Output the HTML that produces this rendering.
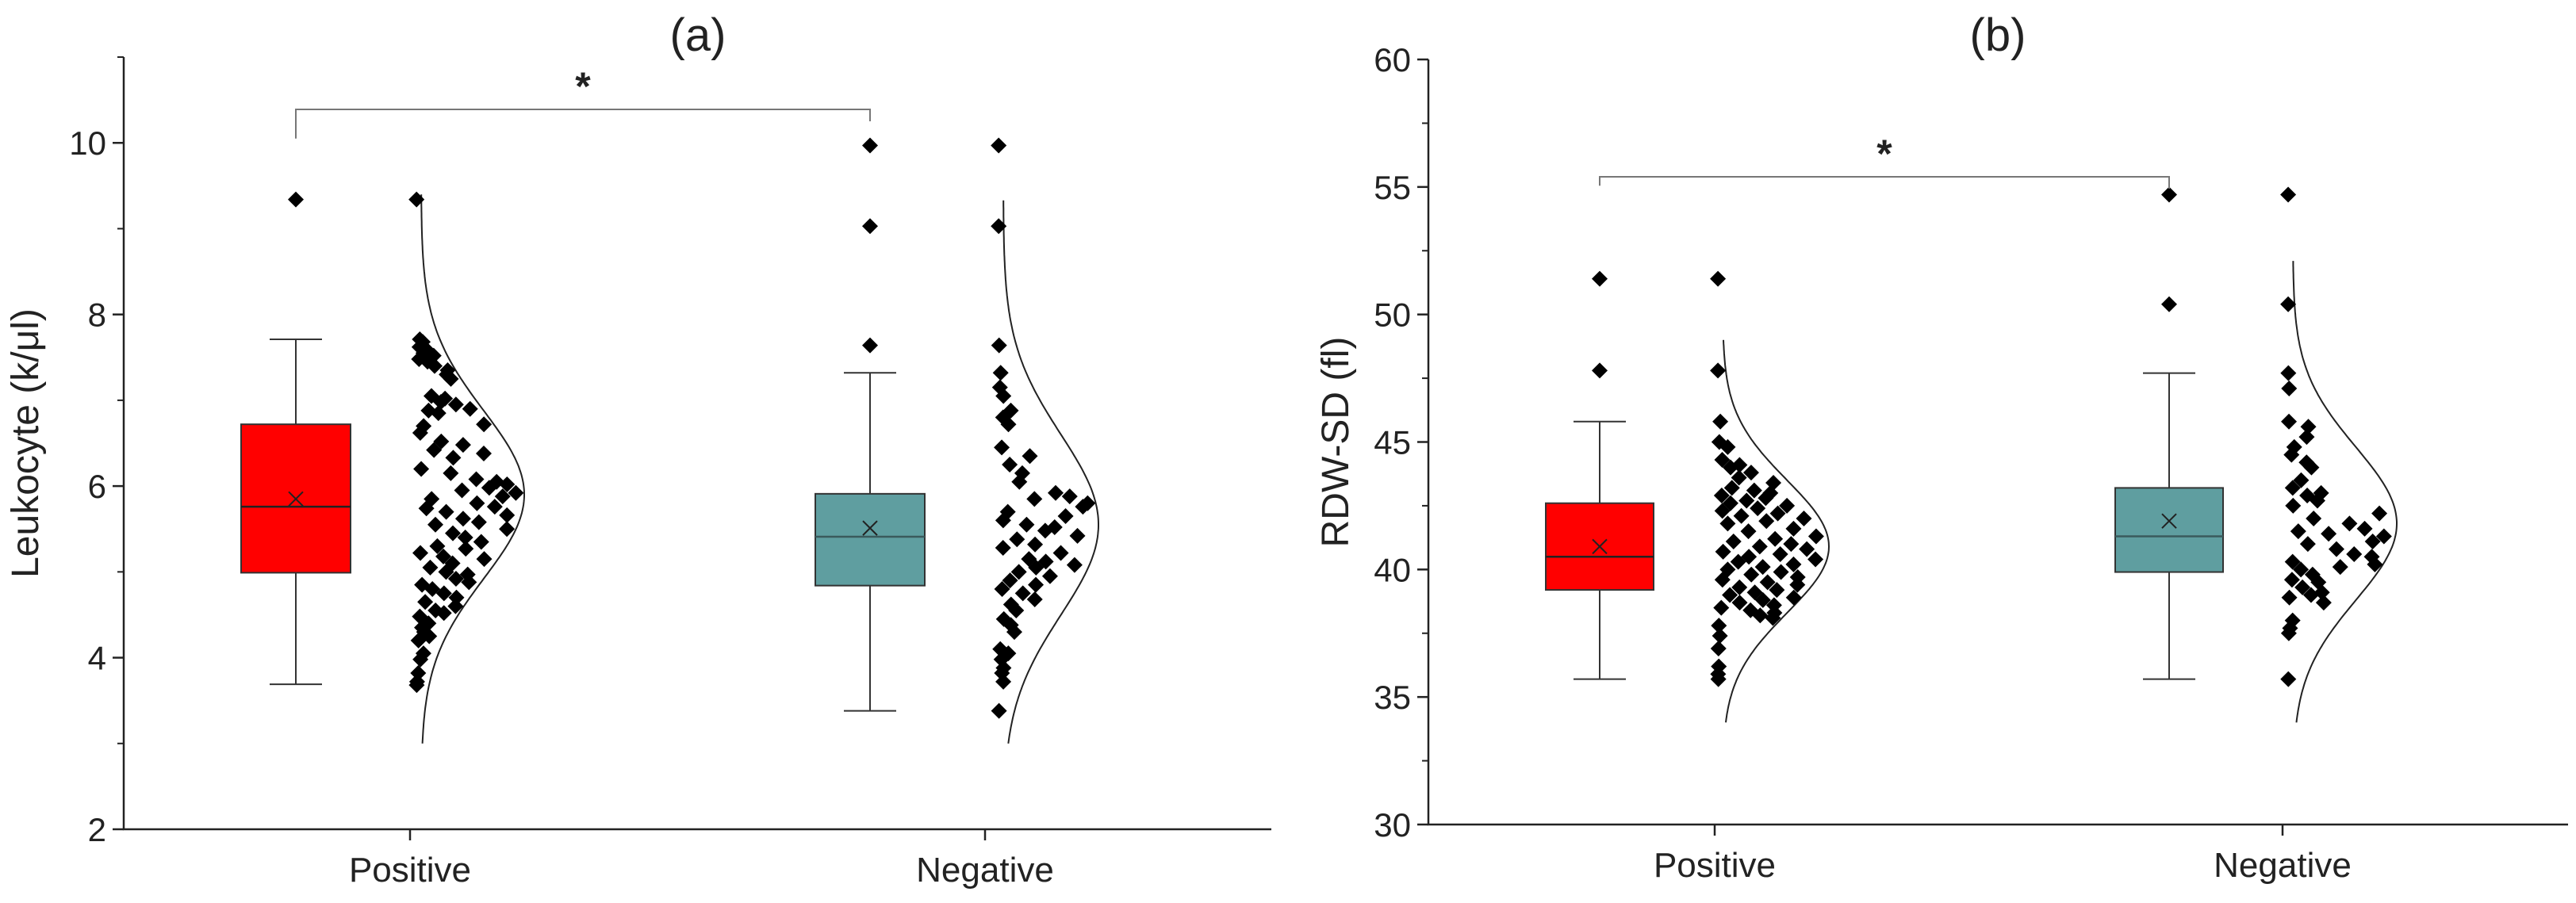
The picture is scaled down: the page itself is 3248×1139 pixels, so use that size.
<!DOCTYPE html>
<html><head><meta charset="utf-8"><style>
html,body{margin:0;padding:0;background:#fff;}
svg{display:block;font-family:"Liberation Sans",Arial,sans-serif;}
</style></head><body>
<svg id="chart" width="3248" height="1139" viewBox="0 0 3248 1139"></svg>
<script>
// ---------- data ----------
const categories = ["Positive", "Negative"];
// panel a: Leukocyte
const aTicks = [2, 4, 6, 8, 10];
const aQ1 = [4.99, 4.84];
const aQ3 = [6.72, 5.91];
const aMedian = [5.76, 5.41];
const aMean = [5.85, 5.51];
const aWhiskerLow = [3.69, 3.38];
const aWhiskerHigh = [7.71, 7.32];
const aOutliers = [[9.34], [9.97, 9.03, 7.64]];
const aCurveMean = [5.9, 5.55];
const aCurveSd = [0.98, 1.05];
const aCurveRange = [[3.0, 9.4], [3.0, 9.33]];
const aPosValues = [9.34,7.71,7.68,7.62,7.58,7.55,7.52,7.48,7.45,7.40,7.35,7.30,7.25,7.05,7.02,6.98,6.95,6.90,6.88,6.85,6.72,6.70,6.62,6.52,6.48,6.42,6.38,6.33,6.20,6.15,6.08,6.05,6.02,5.98,5.95,5.92,5.88,5.85,5.80,5.76,5.74,5.70,5.66,5.62,5.58,5.55,5.50,5.45,5.40,5.35,5.30,5.27,5.22,5.18,5.15,5.10,5.05,5.00,4.97,4.92,4.88,4.85,4.80,4.75,4.70,4.65,4.60,4.55,4.52,4.48,4.40,4.35,4.30,4.25,4.20,4.05,3.98,3.82,3.72,3.68];
const aPosFrac = [0.05,0.2,0.35,0.15,0.5,0.3,0.7,0.1,0.4,0.6,0.95,0.85,0.9,0.3,0.55,0.45,0.7,0.9,0.2,0.35,0.95,0.1,0.05,0.3,0.55,0.2,0.75,0.4,0.05,0.35,0.6,0.8,0.9,0.72,0.45,0.98,0.85,0.15,0.6,0.78,0.1,0.3,0.92,0.48,0.65,0.2,0.97,0.4,0.55,0.75,0.25,0.6,0.05,0.35,0.9,0.5,0.2,0.45,0.8,0.65,0.9,0.1,0.3,0.55,0.85,0.2,0.95,0.5,0.75,0.1,0.4,0.2,0.3,0.55,0.1,0.45,0.3,0.2,0.1,0.05];
const aNegValues = [9.97,9.03,7.64,7.32,7.15,7.05,6.88,6.80,6.72,6.45,6.35,6.25,6.15,6.05,5.92,5.88,5.85,5.80,5.76,5.70,5.65,5.60,5.55,5.52,5.48,5.42,5.38,5.32,5.28,5.22,5.15,5.12,5.08,5.05,5.00,4.95,4.90,4.85,4.80,4.75,4.68,4.62,4.55,4.45,4.38,4.30,4.10,4.05,3.98,3.88,3.82,3.72,3.38];
const aNegFrac = [0.05,0.05,0.05,0.1,0.05,0.15,0.3,0.1,0.2,0.05,0.45,0.15,0.3,0.25,0.65,0.8,0.4,0.98,0.92,0.1,0.72,0.05,0.3,0.6,0.5,0.85,0.2,0.4,0.05,0.7,0.35,0.55,0.9,0.45,0.25,0.65,0.15,0.5,0.05,0.35,0.55,0.2,0.3,0.1,0.25,0.35,0.05,0.3,0.1,0.2,0.15,0.25,0.05];
// panel b: RDW-SD
const bTicks = [30, 35, 40, 45, 50, 55, 60];
const bQ1 = [39.2, 39.9];
const bQ3 = [42.6, 43.2];
const bMedian = [40.5, 41.3];
const bMean = [40.9, 41.9];
const bWhiskerLow = [35.7, 35.7];
const bWhiskerHigh = [45.8, 47.7];
const bOutliers = [[51.4, 47.8], [54.7, 50.4]];
const bCurveMean = [40.9, 41.8];
const bCurveSd = [2.6, 3.0];
const bCurveRange = [[34.0, 49.0], [34.0, 52.1]];
const bPosValues = [51.4,47.8,45.8,45.0,44.8,44.3,44.1,44.0,43.8,43.6,43.4,43.2,43.1,43.0,42.9,42.8,42.7,42.6,42.5,42.4,42.3,42.2,42.1,42.0,41.9,41.8,41.6,41.5,41.3,41.2,41.1,41.0,40.9,40.8,40.7,40.6,40.5,40.4,40.3,40.2,40.1,40.0,39.9,39.8,39.7,39.6,39.5,39.4,39.3,39.2,39.1,39.0,38.9,38.8,38.7,38.6,38.5,38.4,38.3,38.2,38.1,37.8,37.4,36.9,36.2,35.9,35.7];
const bPosFrac = [0.02,0.02,0.15,0.05,0.3,0.1,0.45,0.25,0.6,0.35,0.85,0.2,0.5,0.7,0.05,0.6,0.35,0.15,0.8,0.45,0.05,0.65,0.25,0.9,0.5,0.1,0.75,0.3,0.95,0.55,0.15,0.7,0.4,0.85,0.05,0.6,0.3,0.95,0.2,0.75,0.45,0.1,0.65,0.35,0.85,0.05,0.55,0.9,0.25,0.7,0.45,0.15,0.98,0.6,0.3,0.8,0.05,0.5,0.9,0.7,0.95,0.02,0.05,0.02,0.05,0.02,0.04];
const bNegValues = [54.7,50.4,47.7,47.1,45.8,45.6,45.2,44.8,44.5,44.2,44.0,43.5,43.2,43.0,42.9,42.7,42.5,42.2,42.0,41.8,41.6,41.5,41.4,41.3,41.1,41.0,40.8,40.6,40.5,40.3,40.2,40.1,40.0,39.8,39.6,39.5,39.3,39.1,39.0,38.9,38.7,38.0,37.7,37.5,35.7];
const bNegFrac = [0.02,0.02,0.02,0.05,0.02,0.45,0.35,0.1,0.05,0.25,0.3,0.15,0.05,0.35,0.2,0.3,0.05,0.9,0.25,0.6,0.75,0.1,0.4,0.95,0.85,0.2,0.5,0.7,0.9,0.05,0.98,0.6,0.15,0.3,0.05,0.4,0.2,0.5,0.35,0.02,0.6,0.1,0.05,0.02,0.02];

// ---------- rendering ----------
const NS = "http://www.w3.org/2000/svg";
const svg = document.getElementById("chart");
function el(tag, attrs, parent) {
  const e = document.createElementNS(NS, tag);
  for (const k in attrs) e.setAttribute(k, attrs[k]);
  (parent || svg).appendChild(e);
  return e;
}

function drawPanel(p) {
  const g = el("g", {});
  
  
  const Y = v => p.y0 - (v - p.vmin) / (p.vmax - p.vmin) * (p.y0 - p.yTop);
  const ax = el("path", {d:`M${p.x0},${p.yTop} V${p.y0} H${p.xEnd}`, fill:"none", stroke:"#222", "stroke-width":2.5}, g);
  
  
  for (let i = 0; i < p.ticks.length; i++) {
    const v = p.ticks[i];
    el("line", {x1:p.x0-14, x2:p.x0, y1:Y(v), y2:Y(v), stroke:"#222", "stroke-width":2.5}, g);
    const t = el("text", {x:p.x0-22, y:Y(v)+15, "text-anchor":"end", "font-size":42, fill:"#222"}, g);
    t.textContent = v;
    
    
    const half = (p.ticks[1]-p.ticks[0]) / 2;
    if (v + half < p.vmax + 1e-9) el("line", {x1:p.x0-8, x2:p.x0, y1:Y(v+half), y2:Y(v+half), stroke:"#222", "stroke-width":2}, g);
  }
  const yt = el("text", {x:0, y:0, "text-anchor":"middle", "font-size":48, fill:"#222", transform:`translate(${p.titleX},${(p.yTop+p.y0)/2}) rotate(-90)`}, g);
  yt.textContent = p.ytitle;
  
  
  const pt = el("text", {x:p.labelX, y:64, "text-anchor":"middle", "font-size":58, fill:"#222"}, g);
  pt.textContent = p.label;
  
  
  for (let c = 0; c < 2; c++) {
    const cx = p.catX[c];
    el("line", {x1:cx, x2:cx, y1:p.y0, y2:p.y0+14, stroke:"#222", "stroke-width":2.5}, g);
    const ct = el("text", {x:cx, y:p.y0+66, "text-anchor":"middle", "font-size":44, fill:"#222"}, g);
    ct.textContent = categories[c];
    
    
    const bx = p.boxX[c], bw = p.boxW;
    el("line", {x1:bx, x2:bx, y1:Y(p.wh[c]), y2:Y(p.q3[c]), stroke:"#333", "stroke-width":2}, g);
    el("line", {x1:bx, x2:bx, y1:Y(p.q1[c]), y2:Y(p.wl[c]), stroke:"#333", "stroke-width":2}, g);
    el("line", {x1:bx-33, x2:bx+33, y1:Y(p.wh[c]), y2:Y(p.wh[c]), stroke:"#333", "stroke-width":2}, g);
    el("line", {x1:bx-33, x2:bx+33, y1:Y(p.wl[c]), y2:Y(p.wl[c]), stroke:"#333", "stroke-width":2}, g);
    const box = el("rect", {x:bx-bw/2, y:Y(p.q3[c]), width:bw, height:Y(p.q1[c])-Y(p.q3[c]), fill:p.colors[c], stroke:"#333", "stroke-width":2}, g);
    
    
    el("line", {x1:bx-bw/2, x2:bx+bw/2, y1:Y(p.med[c]), y2:Y(p.med[c]), stroke:c===0?"#222":"#3a5a5c", "stroke-width":2.5}, g);
    const my = Y(p.mean[c]);
    el("path", {d:`M${bx-9},${my-9} L${bx+9},${my+9} M${bx+9},${my-9} L${bx-9},${my+9}`, stroke:"#222", "stroke-width":2}, g);
    for (const o of p.out[c]) diamond(g, bx, Y(o), 'outlier');
    const base = p.curveBase[c], A = p.curveA[c];
    const W = v => A * Math.exp(-Math.pow(v - p.cm[c], 2) / (2 * p.cs[c] * p.cs[c]));
    let d = "";
    const [r0, r1] = p.cr[c];
    for (let i = 0; i <= 200; i++) {
      const v = r0 + (r1 - r0) * i / 200;
      d += (i ? "L" : "M") + (base + W(v)).toFixed(1) + "," + Y(v).toFixed(1);
    }
    const cv = el("path", {d, fill:"none", stroke:"#222", "stroke-width":2}, g);
    
    
    const vals = p.pts[c], fr = p.fr[c];
    for (let i = 0; i < vals.length; i++) {
      const v = vals[i];
      const x = base - 6 + (fr[i] || 0) * Math.max(W(v) - 2, 4);
      diamond(g, x, Y(v), 'data-point');
    }
  }
  const by = Y(p.bracket), bt = Y(p.bracketTick);
  const br = el("path", {d:`M${p.boxX[0]},${bt} V${by} H${p.boxX[1]} V${by+15}`, fill:"none", stroke:"#777", "stroke-width":2}, g);
  
  
  const st = el("text", {x:(p.boxX[0]+p.boxX[1])/2, y:by-12, "text-anchor":"middle", "font-size":50, "font-weight":"bold", fill:"#222"}, g);
  st.textContent = "*";
  
  
}
function diamond(g, x, y, name) {
  const s = 10;
  const d = el("path", {d:`M${x},${y-s} L${x+s},${y} L${x},${y+s} L${x-s},${y} Z`, fill:"#000"}, g);
  
  
}

drawPanel({name:"panel-a", label:"(a)", labelX:880, ytitle:"Leukocyte (k/\u03bcl)", titleX:48,
  x0:156, xEnd:1603, y0:1046, yTop:72, vmin:2, vmax:11, ticks:aTicks,
  catX:[517,1242], boxX:[373,1097], boxW:138, colors:["#ff0000","#5f9ea0"],
  q1:aQ1, q3:aQ3, med:aMedian, mean:aMean, wl:aWhiskerLow, wh:aWhiskerHigh, out:aOutliers,
  curveBase:[531,1265], curveA:[130,120], cm:aCurveMean, cs:aCurveSd, cr:aCurveRange,
  pts:[aPosValues,aNegValues], fr:[aPosFrac,aNegFrac], bracket:10.39, bracketTick:10.05});
drawPanel({name:"panel-b", label:"(b)", labelX:2519, ytitle:"RDW-SD (fl)", titleX:1700,
  x0:1801, xEnd:3238, y0:1040, yTop:75, vmin:30, vmax:60, ticks:bTicks,
  catX:[2162,2878], boxX:[2017,2735], boxW:136, colors:["#ff0000","#5f9ea0"],
  q1:bQ1, q3:bQ3, med:bMedian, mean:bMean, wl:bWhiskerLow, wh:bWhiskerHigh, out:bOutliers,
  curveBase:[2172,2891], curveA:[134,131], cm:bCurveMean, cs:bCurveSd, cr:bCurveRange,
  pts:[bPosValues,bNegValues], fr:[bPosFrac,bNegFrac], bracket:55.4, bracketTick:55.05});
</script>
</body></html>
